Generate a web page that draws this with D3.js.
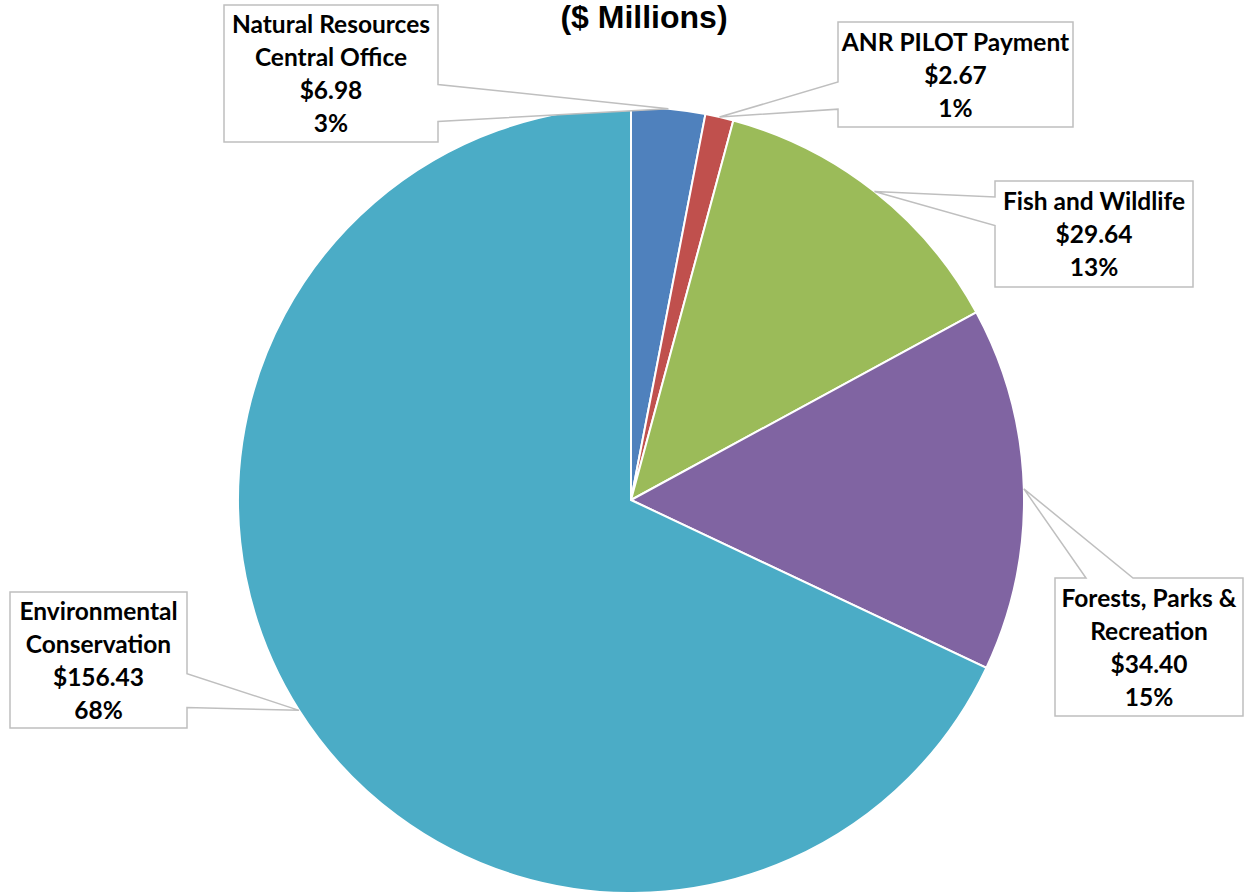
<!DOCTYPE html>
<html>
<head>
<meta charset="utf-8">
<script src="https://cdn.jsdelivr.net/npm/d3@7"></script>
<style>
  html, body { margin: 0; padding: 0; background: #fff; overflow: hidden; }
</style>
</head>
<body>
<div id="chart"></div>
<script>
// Data
const categories = [
    ["Natural Resources", "Central Office"],
    ["ANR PILOT Payment"],
    ["Fish and Wildlife"],
    ["Forests, Parks &", "Recreation"],
    ["Environmental", "Conservation"]
];
const amounts = [6.98, 2.67, 29.64, 34.40, 156.43];
const percents = ["3%", "1%", "13%", "15%", "68%"];
const colors = ["#4F81BD", "#C0504D", "#9BBB59", "#8064A2", "#4BACC6"];

// Callout boxes (layout only): box rect + which edge the pointer leaves from
const callouts = [
    { x: 224, y: 5, w: 214, h: 137, edge: "right", f: [0.58, 0.85] },
    { x: 838, y: 22, w: 235, h: 105, edge: "left", f: [0.57, 0.83] },
    { x: 995, y: 181, w: 198, h: 106, edge: "left", f: [0.15, 0.42] },
    { x: 1055, y: 578, w: 188, h: 138, edge: "top", f: [0.165, 0.415] },
    { x: 10, y: 592, w: 177, h: 136, edge: "right", f: [0.6, 0.85] }
];

const width = 1244, height = 892;
const cx = 631, cy = 500, radius = 393;

const svg = d3.select("#chart").append("svg")
    .attr("width", width)
    .attr("height", height);

// Title (its first line is off the top of the source picture)
svg.append("text")
    .attr("x", 644)
    .attr("y", 28)
    .attr("text-anchor", "middle")
    .style("font-family", "Liberation Sans, Arial, sans-serif")
    .style("font-weight", "bold")
    .style("font-size", "32px")
    .text("($ Millions)");

const data = amounts.map((v, i) => ({
    lines: categories[i], value: v, pct: percents[i], color: colors[i], box: callouts[i]
}));

const pie = d3.pie().sort(null).value(d => d.value);
const arc = d3.arc().innerRadius(0).outerRadius(radius);
const edgeArc = d3.arc().innerRadius(radius).outerRadius(radius);

const arcs = pie(data);

const g = svg.append("g").attr("transform", `translate(${cx},${cy})`);

g.selectAll("path.slice")
    .data(arcs)
    .enter()
    .append("path")
    .attr("class", "slice")
    .attr("d", arc)
    .attr("fill", d => d.data.color)
    .attr("stroke", "#fff")
    .attr("stroke-width", 2);

// Callout shape: rectangle with a wedge to the anchor
function calloutPath(b, ax, ay) {
    const x0 = b.x, y0 = b.y, x1 = b.x + b.w, y1 = b.y + b.h;
    let pts;
    if (b.edge === "right") {
        const ya = y0 + b.h * b.f[0], yb = y0 + b.h * b.f[1];
        pts = [[x0, y0], [x1, y0], [x1, ya], [ax, ay], [x1, yb], [x1, y1], [x0, y1]];
    } else if (b.edge === "left") {
        const ya = y0 + b.h * b.f[0], yb = y0 + b.h * b.f[1];
        pts = [[x0, y0], [x1, y0], [x1, y1], [x0, y1], [x0, yb], [ax, ay], [x0, ya]];
    } else {
        const xa = x0 + b.w * b.f[0], xb = x0 + b.w * b.f[1];
        pts = [[x0, y0], [xa, y0], [ax, ay], [xb, y0], [x1, y0], [x1, y1], [x0, y1]];
    }
    return "M" + pts.map(p => p.join(",")).join("L") + "Z";
}

const labels = svg.append("g");

arcs.forEach(a => {
    const b = a.data.box;
    const c = edgeArc.centroid(a);
    const ax = cx + c[0], ay = cy + c[1];

    labels.append("path")
        .attr("d", calloutPath(b, ax, ay))
        .attr("fill", "#fff")
        .attr("stroke", "#BFBFBF")
        .attr("stroke-width", 1.5)
        .attr("stroke-linejoin", "miter");

    const lines = a.data.lines.concat(["$" + a.data.value.toFixed(2), a.data.pct]);
    const lh = 33;
    const mid = b.y + b.h / 2;
    const first = mid - (lines.length - 1) * lh / 2 + 9;
    const t = labels.append("text")
        .attr("text-anchor", "middle")
        .style("font-family", "Lato, 'Open Sans', sans-serif")
        .style("font-weight", "bold")
        .style("font-size", "24.5px")
        .style("fill", "#000");
    lines.forEach((s, i) => {
        t.append("tspan")
            .attr("x", b.x + b.w / 2)
            .attr("y", first + i * lh)
            .text(s);
    });
});
</script>
</body>
</html>
